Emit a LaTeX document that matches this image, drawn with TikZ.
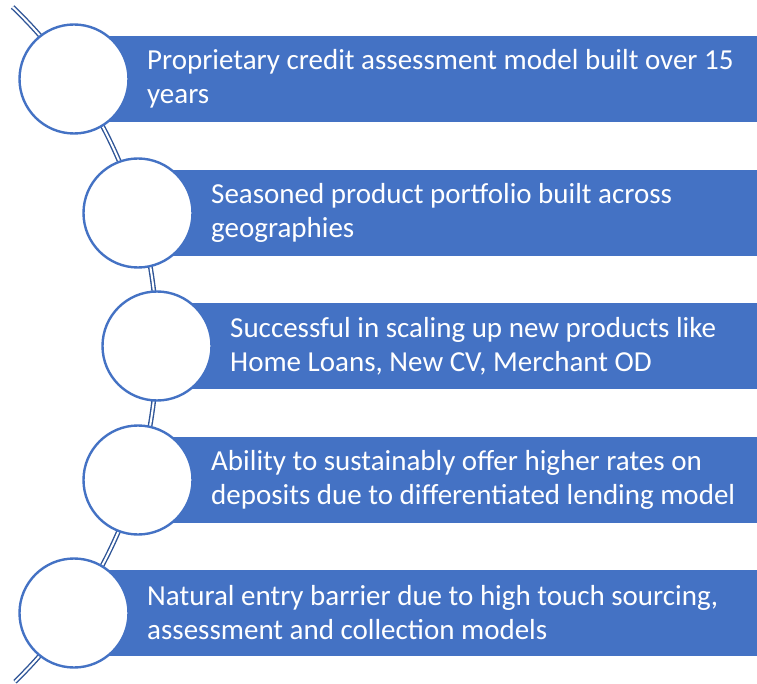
\documentclass[tikz,border=0pt]{standalone}
\usepackage{fontspec}
\setmainfont{Carlito}
\definecolor{boxblue}{HTML}{4472C4}
\definecolor{spineblue}{HTML}{2F5597}
\begin{document}
\begin{tikzpicture}[x=1pt,y=-1pt,
  bar/.style={fill=boxblue, draw=none, anchor=west, minimum height=86pt, inner sep=0pt},
  dot/.style={circle, fill=white, draw=boxblue, line width=2.4pt, minimum size=109pt, inner sep=0pt},
  label/.style={anchor=west, text=white, align=left, inner sep=0pt,
    font=\fontsize{29}{34}\selectfont},
  spine/.style={draw=spineblue, line width=1.4pt, double=white, double distance=2pt}]
\useasboundingbox (0,0) rectangle (757,684);
% spine
\coordinate (spinetop) at (12.6,7);
\draw[spine] (spinetop) arc[start angle=-46.2, end angle=45.8, radius=469] coordinate (spinebot);
% bars
\node[bar, minimum width=683pt] (r1) at (74,79) {};
\node[bar, minimum width=619pt] (r2) at (138,213) {};
\node[bar, minimum width=600pt] (r3) at (157,346) {};
\node[bar, minimum width=619pt] (r4) at (138,480) {};
\node[bar, minimum width=683pt] (r5) at (74,613) {};
% circles
\node[dot] (c1) at (74,79) {};
\node[dot] (c2) at (138,213) {};
\node[dot] (c3) at (157,346) {};
\node[dot] (c4) at (138,480) {};
\node[dot] (c5) at (74,613) {};
% texts
\node[label] (t1) at (147,79) {Proprietary credit assessment model built over 15\\years};
\node[label] (t2) at (211,213) {Seasoned product portfolio built across\\geographies};
\node[label] (t3) at (230,346) {Successful in scaling up new products like\\Home Loans, New CV, Merchant OD};
\node[label] (t4) at (211,480) {Ability to sustainably offer higher rates on\\deposits due to differentiated lending model};
\node[label] (t5) at (147,613) {Natural entry barrier due to high touch sourcing,\\assessment and collection models};
\end{tikzpicture}
\end{document}
